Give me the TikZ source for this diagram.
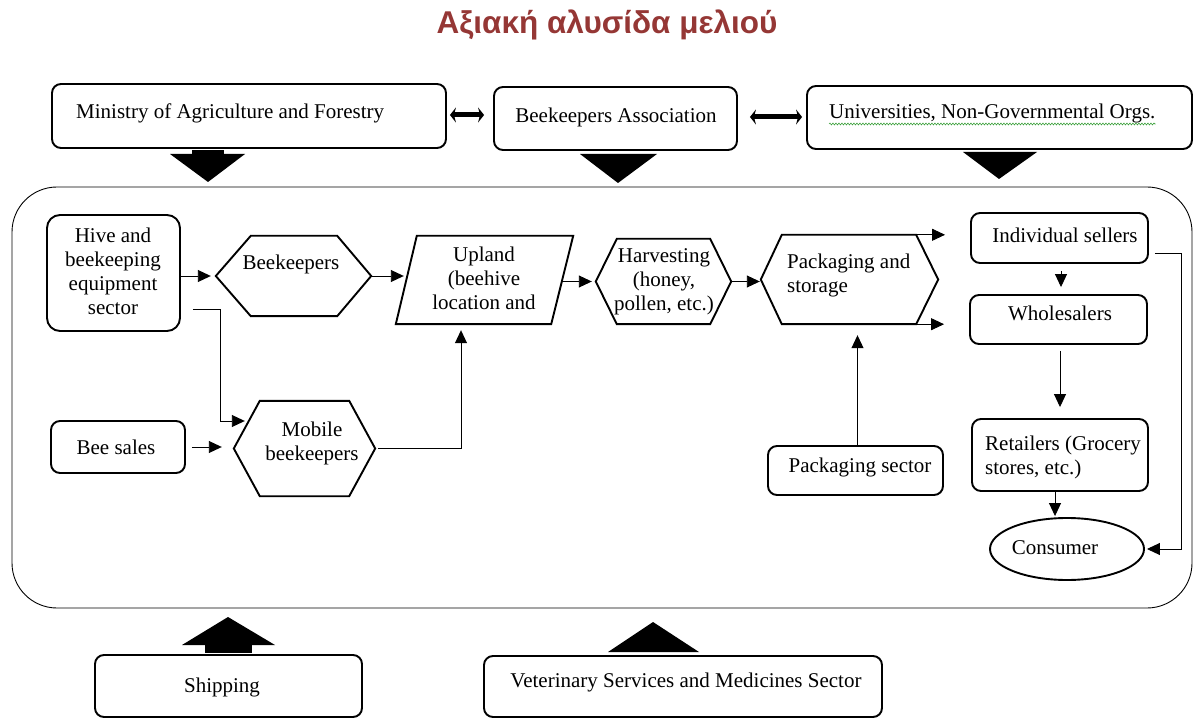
\documentclass[tikz,border=0pt]{standalone}
\usepackage{fontspec}
\setmainfont{Liberation Serif}
\newfontfamily\titlefont{Liberation Sans}
\usetikzlibrary{arrows.meta,calc,shapes.geometric,decorations.pathmorphing}
\definecolor{titlered}{HTML}{953735}
\definecolor{spellgreen}{HTML}{3BA03B}
\begin{document}
\begin{tikzpicture}[x=1pt,y=-1pt,
  box/.style={draw,line width=1.9pt,rounded corners=9pt,inner sep=0pt},
  shp/.style={inner sep=0pt},
  outline/.style={line width=1.9pt,line join=miter},
  txt/.style={font=\fontsize{21}{24}\selectfont,align=center,inner sep=0pt},
  conn/.style={line width=0.9pt,-{Triangle[length=13pt,width=12pt]}},
  dbl/.style={line width=5pt,{Stealth[length=6pt,width=15pt,inset=2pt]}-{Stealth[length=6pt,width=15pt,inset=2pt]}},
  blk/.style={fill=black}]
\useasboundingbox (0,0) rectangle (1194,719);

% title
\node[font=\titlefont\bfseries\fontsize{31.5}{33}\selectfont,text=titlered,inner sep=0pt] (title) at (607,25) {Αξιακή αλυσίδα μελιού};

% top boxes
\node[box,minimum width=394pt,minimum height=64pt] (min) at (249,116) {};
\node[txt,anchor=west] (mint) at (76,113) {Ministry of Agriculture and Forestry};
\node[box,minimum width=243pt,minimum height=63pt] (ba) at (615.5,118.5) {};
\node[txt] (bat) at (616,117) {Beekeepers Association};
\node[box,minimum width=385pt,minimum height=63pt] (uni) at (999.5,117.5) {};
\node[txt,anchor=west] (unit) at (829,113) {Universities, Non-Governmental Orgs.};
\draw[spellgreen,line width=0.6pt,decorate,decoration={snake,amplitude=0.9pt,segment length=3pt}] ([yshift=-11pt]unit.west) -- ([yshift=-11pt]unit.east);

\draw[dbl] ([xshift=3pt]min.east |- 0,115) -- ([xshift=-9pt]ba.west |- 0,115);
\draw[dbl] ([xshift=12pt]ba.east |- 0,117) -- ([xshift=-4pt]uni.west |- 0,117);

% down block arrows
\fill[blk] (192,150) rectangle (224,155);
\fill[blk] (170,154) -- (245,154) -- (208,182) -- cycle;
\fill[blk] (580,154) -- (657,154) -- (618,183) -- cycle;
\fill[blk] (963,152) -- (1037,152) -- (999,179) -- cycle;

% main frame
\node[draw,line width=0.9pt,rounded corners=45pt,minimum width=1180pt,minimum height=421pt,inner sep=0pt] (frame) at (602,397.5) {};

% inner nodes
\node[box,rounded corners=13pt,minimum width=133pt,minimum height=116pt] (hive) at (113.5,273) {};
\node[txt] (hivet) at (113,271) {Hive and\\beekeeping\\equipment\\sector};

\node[shp,minimum width=155pt,minimum height=80pt] (bh) at (293.5,276) {};
\draw[outline] (bh.west) -- ([xshift=35pt]bh.north west) -- ([xshift=-34pt]bh.north east) -- (bh.east) -- ([xshift=-34pt]bh.south east) -- ([xshift=35pt]bh.south west) -- cycle;
\node[txt] (bht) at (291,264) {Beekeepers};

\node[shp,minimum width=177pt,minimum height=88pt] (up) at (484.5,280) {};
\draw[outline] ([xshift=21pt]up.north west) -- (up.north east) -- ([xshift=-22pt]up.south east) -- (up.south west) -- cycle;
\node[txt] (upt) at (484,278) {Upland\\(beehive\\location and};

\node[shp,minimum width=135pt,minimum height=85pt] (hv) at (663.5,281.5) {};
\draw[outline] (hv.west) -- ([xshift=21pt]hv.north west) -- ([xshift=-21pt]hv.north east) -- (hv.east) -- ([xshift=-21pt]hv.south east) -- ([xshift=21pt]hv.south west) -- cycle;
\node[txt] (hvt) at (664,281.5) {Harvesting\\(honey,\\pollen, etc.)};

\node[shp,minimum width=177pt,minimum height=89pt] (pk) at (849.5,279.5) {};
\draw[outline] (pk.west) -- ([xshift=21pt]pk.north west) -- ([xshift=-22pt]pk.north east) -- (pk.east) -- ([xshift=-22pt]pk.south east) -- ([xshift=21pt]pk.south west) -- cycle;
\node[txt,align=left,anchor=west] (pkt) at (787,275.5) {Packaging and\\storage};

\node[box,minimum width=177pt,minimum height=50pt] (is) at (1059.5,238) {};
\node[txt] (ist) at (1065,235) {Individual sellers};
\node[box,minimum width=177pt,minimum height=49pt] (ws) at (1058.5,319.5) {};
\node[txt] (wst) at (1060,313) {Wholesalers};
\node[box,minimum width=176pt,minimum height=72pt] (rt) at (1060,455) {};
\node[txt,align=left,anchor=west] (rtt) at (985,457) {Retailers (Grocery\\stores, etc.)};
\node[draw,line width=1.9pt,ellipse,minimum width=154pt,minimum height=62pt,inner sep=0pt] (cons) at (1067,549) {};
\node[txt] (const) at (1055,548) {Consumer};

\node[box,minimum width=175pt,minimum height=49pt] (ps) at (855.5,470.5) {};
\node[txt] (pst) at (860,467) {Packaging sector};

\node[box,minimum width=134pt,minimum height=52pt] (bs) at (118,447) {};
\node[txt] (bst) at (116,447) {Bee sales};

\node[shp,minimum width=141pt,minimum height=95pt] (mb) at (304.5,448.5) {};
\draw[outline] (mb.west) -- ([xshift=26pt]mb.north west) -- ([xshift=-26pt]mb.north east) -- (mb.east) -- ([xshift=-26pt]mb.south east) -- ([xshift=26pt]mb.south west) -- cycle;
\node[txt] (mbt) at (312,443) {Mobile\\beekeepers};

% connectors
\draw[conn,shorten >=5pt] (hive.east |- bh.west) -- (bh.west);
\draw[conn] (bh.east) -- ([xshift=8pt]bh.east -| up.west);
\draw[conn,shorten >=4pt] ([xshift=-11pt]up.east |- hv.west) -- (hv.west);
\draw[conn,shorten >=1pt] (hv.east) -- (hv.east -| pk.west);
\draw[conn,shorten >=3pt] ([xshift=-22pt]pk.north east) -- ([xshift=-22pt]pk.north east -| is.west);
\draw[conn,shorten >=3pt] ([xshift=-22pt]pk.south east) -- ([xshift=-22pt]pk.south east -| ws.west);
\draw[conn,shorten <=7pt,shorten >=7pt] ([xshift=1.5pt]is.south) -- ([xshift=1.5pt]is.south |- ws.north);
\draw[conn,shorten <=6pt,shorten >=11pt] ([xshift=1.5pt]ws.south) -- ([xshift=1.5pt]ws.south |- rt.north);
\draw[conn,shorten >=1pt] ([xshift=-5pt]rt.south) -- ([xshift=-5pt]rt.south |- cons.north);
\coordinate (isc) at (1181,253);
\draw[conn,shorten >=2pt] ([xshift=6pt,yshift=-15pt]is.east) -- (isc) |- (cons.east);
\draw[conn,shorten >=11pt] ([xshift=2pt]ps.north) -- ([xshift=2pt]ps.north |- pk.south);
\coordinate (hm) at (220,421);
\draw[conn] ([xshift=12pt,yshift=-36pt]hive.east) -| (hm) -- ([xshift=11pt,yshift=27.5pt]mb.west);
\draw[conn,shorten <=6pt,shorten >=12pt] (bs.east) -- (bs.east -| mb.west);
\draw[conn,shorten <=3pt,shorten >=6pt] (mb.east) -| ([xshift=-23.5pt]up.south);

% bottom boxes
\node[box,minimum width=267pt,minimum height=62pt] (ship) at (228.5,686) {};
\node[txt] (shipt) at (222,687) {Shipping};
\node[box,minimum width=398pt,minimum height=61pt] (vet) at (683,686.5) {};
\node[txt] (vett) at (686,682) {Veterinary Services and Medicines Sector};

% up block arrows
\fill[blk] (205,644) rectangle (252,653);
\fill[blk] (182,645) -- (275,645) -- (228,617) -- cycle;
\fill[blk] (608,652) -- (699,652) -- (653,622) -- cycle;
\end{tikzpicture}
\end{document}
